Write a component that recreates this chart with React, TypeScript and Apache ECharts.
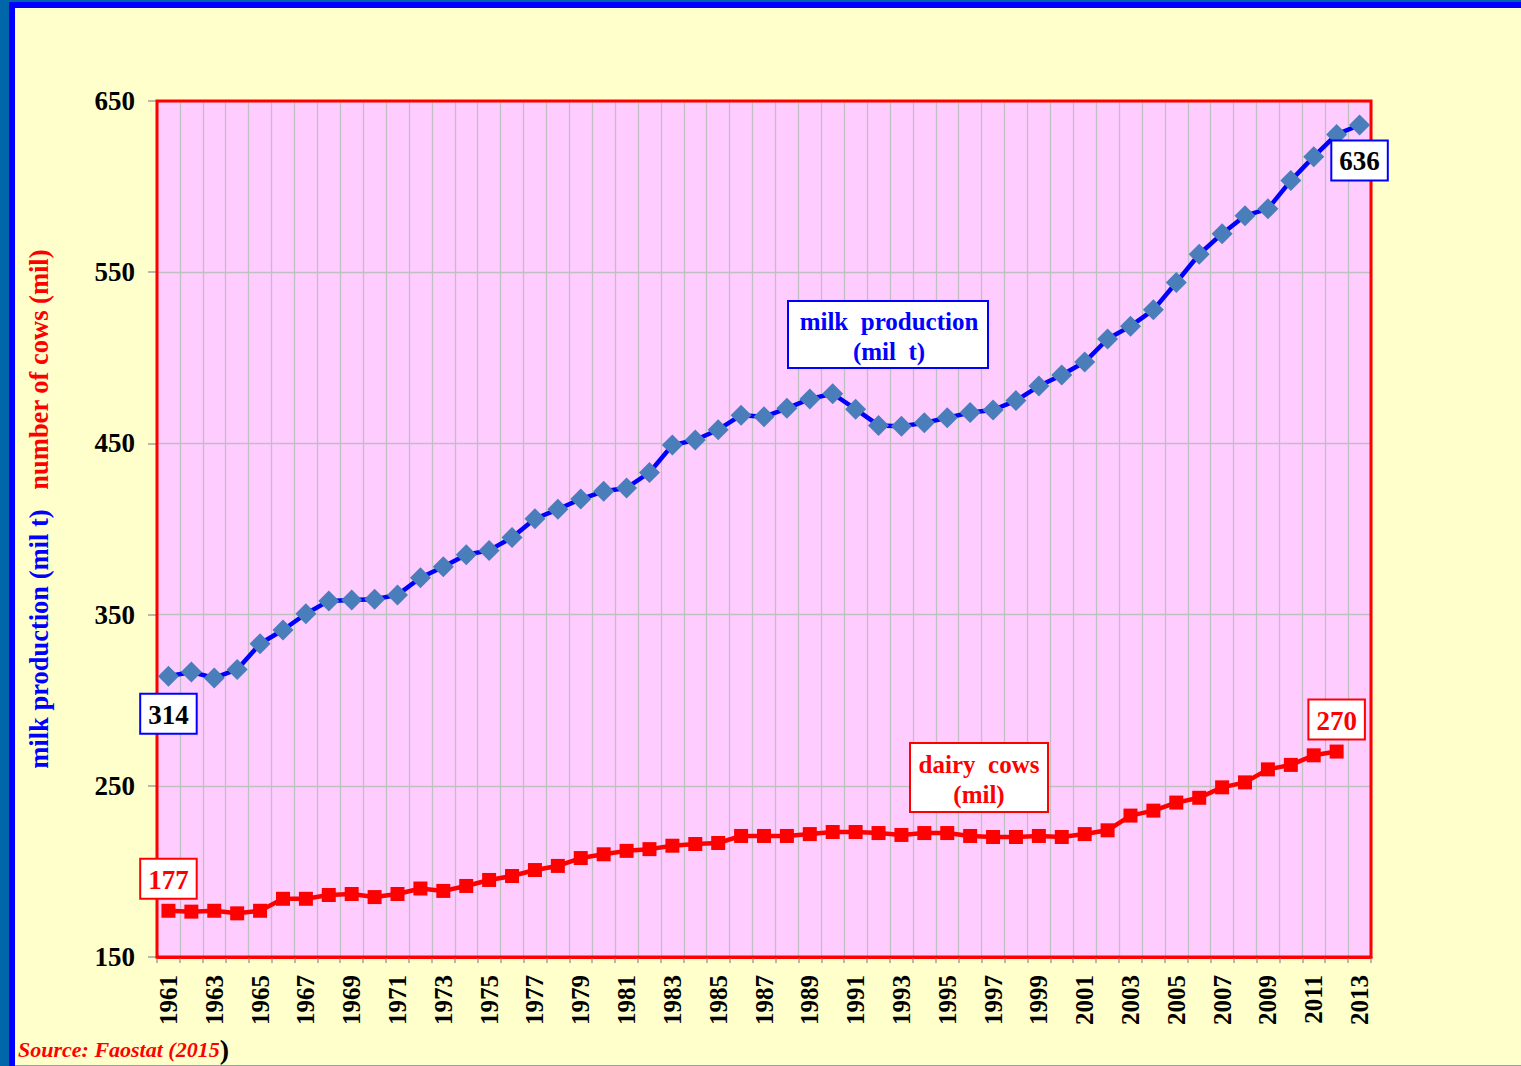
import React, { useEffect, useRef } from "react";
import * as echarts from "echarts";

const years: string[] = [];
for (let y = 1961; y <= 2013; y++) years.push(String(y));

const milkProduction: number[] = [
  314, 316.5, 313, 318, 333, 341, 350.5, 358, 358.5, 359,
  361.5, 371.5, 378, 385, 387.5, 395, 406, 411.5, 417.5, 422,
  424, 433, 449, 452, 458, 466.5, 465.5, 470.5, 476, 479,
  470, 460.5, 460, 462, 465, 468, 469.5, 475, 483.5, 490,
  497.5, 511, 518.5, 528, 544, 560.5, 572.5, 583, 587, 603.5,
  617.5, 630.5, 636,
];

const dairyCows: (number | null)[] = [
  177, 176.5, 177, 175.5, 177, 184, 184, 186.2, 186.8, 185,
  186.8, 190, 188.6, 191.5, 195, 197.3, 200.8, 203.2, 207.8, 210,
  212, 213, 215, 216, 216.6, 220.7, 220.7, 220.7, 221.8, 223,
  223, 222.4, 221.3, 222.4, 222.4, 220.7, 220.1, 220.1, 220.7, 220.1,
  221.8, 224, 232.6, 235.5, 240.2, 243, 249.1, 252, 259.6, 262.2,
  267.8, 270, null,
];

const yTicks = { min: 150, max: 650, interval: 100 };

const SERIF = "'Liberation Serif', 'Times New Roman', serif";

export default function App() {
  const ref = useRef<HTMLDivElement>(null);

  useEffect(() => {
    if (!ref.current) return;
    const chart = echarts.init(ref.current, undefined, { renderer: "svg" });

    const boxLabel = (text: string, color: string, border: string, position: string, distance: number) => ({
      show: true,
      position,
      distance,
      formatter: () => text,
      color,
      fontFamily: SERIF,
      fontWeight: "bold",
      fontSize: 27,
      lineHeight: 30,
      backgroundColor: "#FFFFFF",
      borderColor: border,
      borderWidth: 2,
      padding: [5, 7, 3, 7],
    });

    const milkData = milkProduction.map((v, i) => {
      if (i === 0) return { value: v, label: boxLabel(String(Math.round(v)), "#000000", "#0000FF", "bottom", 8) };
      if (i === milkProduction.length - 1)
        return { value: v, label: boxLabel(String(Math.round(v)), "#000000", "#0000FF", "bottom", 6) };
      return v;
    });

    const lastCow = dairyCows.reduce((acc: number, v, i) => (v != null ? i : acc), 0);
    const cowData = dairyCows.map((v, i) => {
      if (v != null && (i === 0 || i === lastCow)) {
        return { value: v, label: boxLabel(String(Math.round(v)), "#FF0000", "#FF0000", "top", 6) };
      }
      return v;
    });

    chart.setOption({
      animation: false,
      backgroundColor: "transparent",
      grid: {
        left: 157,
        top: 101,
        width: 1214,
        height: 856,
        show: true,
        backgroundColor: "#FFCCFF",
        borderColor: "#FF0000",
        borderWidth: 0,
      },
      xAxis: {
        type: "category",
        data: years,
        boundaryGap: true,
        axisLine: { show: true, lineStyle: { color: "#FF0000", width: 3 } },
        axisTick: { show: true, interval: 0, length: 6, lineStyle: { color: "#A0A0A0", width: 1.5 } },
        splitLine: { show: true, interval: 0, lineStyle: { color: "#C0C0C0", width: 1.3 } },
        axisLabel: {
          interval: 1,
          rotate: 90,
          margin: 18,
          color: "#000000",
          fontFamily: SERIF,
          fontWeight: "bold",
          fontSize: 25,
        },
      },
      yAxis: {
        type: "value",
        min: yTicks.min,
        max: yTicks.max,
        interval: yTicks.interval,
        axisLine: { show: false },
        axisTick: { show: true, length: 9, lineStyle: { color: "#A0A0A0", width: 1.5 } },
        splitLine: { show: true, lineStyle: { color: "#C0C0C0", width: 1.3 } },
        axisLabel: {
          margin: 22,
          color: "#000000",
          fontFamily: SERIF,
          fontWeight: "bold",
          fontSize: 27,
        },
      },
      graphic: [
        {
          type: "rect",
          z: 1,
          silent: true,
          shape: { x: 157, y: 101, width: 1214, height: 856 },
          style: { fill: "none", stroke: "#FF0000", lineWidth: 3 },
        },
        {
          type: "text",
          x: 39,
          y: 509,
          rotation: Math.PI / 2,
          style: {
            text: "{a|milk production (mil t)}   {b|number of cows (mil)}",
            align: "center",
            verticalAlign: "middle",
            rich: {
              a: { fill: "#0000FF", fontFamily: SERIF, fontWeight: "bold", fontSize: 26.5 },
              b: { fill: "#FF0000", fontFamily: SERIF, fontWeight: "bold", fontSize: 26.5 },
            },
            font: `bold 26px ${SERIF}`,
          },
        },
        {
          type: "rect",
          z: 10,
          shape: { x: 788, y: 301, width: 200, height: 67 },
          style: { fill: "#FFFFFF", stroke: "#0000FF", lineWidth: 2 },
        },
        {
          type: "text",
          z: 11,
          x: 889,
          y: 336,
          style: {
            text: "milk  production\n(mil  t)",
            align: "center",
            verticalAlign: "middle",
            fill: "#0000FF",
            font: `bold 25px ${SERIF}`,
            lineHeight: 30,
          },
        },
        {
          type: "rect",
          z: 10,
          shape: { x: 910, y: 743, width: 138, height: 69 },
          style: { fill: "#FFFFFF", stroke: "#FF0000", lineWidth: 2 },
        },
        {
          type: "text",
          z: 11,
          x: 979,
          y: 779,
          style: {
            text: "dairy  cows\n(mil)",
            align: "center",
            verticalAlign: "middle",
            fill: "#FF0000",
            font: `bold 25px ${SERIF}`,
            lineHeight: 30,
          },
        },
        {
          type: "text",
          x: 18,
          y: 1049,
          style: {
            text: "{a|Source: Faostat (2015}{b|)}",
            verticalAlign: "middle",
            rich: {
              a: { fill: "#FF0000", fontFamily: SERIF, fontWeight: "bold", fontStyle: "italic", fontSize: 22 },
              b: { fill: "#000000", fontFamily: SERIF, fontWeight: "bold", fontSize: 28 },
            },
          },
        },
      ],
      series: [
        {
          name: "milk production (mil t)",
          type: "line",
          data: milkData,
          symbol: "diamond",
          symbolSize: 21,
          showAllSymbol: true,
          lineStyle: { color: "#0000FF", width: 4.5 },
          itemStyle: { color: "#4A7EBB" },
          z: 3,
        },
        {
          name: "dairy cows (mil)",
          type: "line",
          data: cowData,
          symbol: "rect",
          symbolSize: 14,
          showAllSymbol: true,
          lineStyle: { color: "#FF0000", width: 4.5 },
          itemStyle: { color: "#FF0000" },
          z: 3,
        },
      ],
    });

    return () => chart.dispose();
  }, []);

  return (
    <div style={{ position: "absolute", left: 0, top: 0, width: 1521, height: 1066, overflow: "hidden" }}>
      <div style={{ position: "absolute", left: 0, top: 0, width: 1521, height: 1066, background: "#0066AA" }} />
      <div style={{ position: "absolute", left: 9, top: 2, width: 1512, height: 1064, background: "#0000FF" }} />
      <div style={{ position: "absolute", left: 15, top: 8, width: 1506, height: 1057, background: "#FFFFCC" }} />
      <div style={{ position: "absolute", left: 15, top: 1065, width: 1506, height: 1, background: "#9999CC" }} />
      <div ref={ref} style={{ position: "absolute", left: 0, top: 0, width: 1521, height: 1066 }} />
    </div>
  );
}
